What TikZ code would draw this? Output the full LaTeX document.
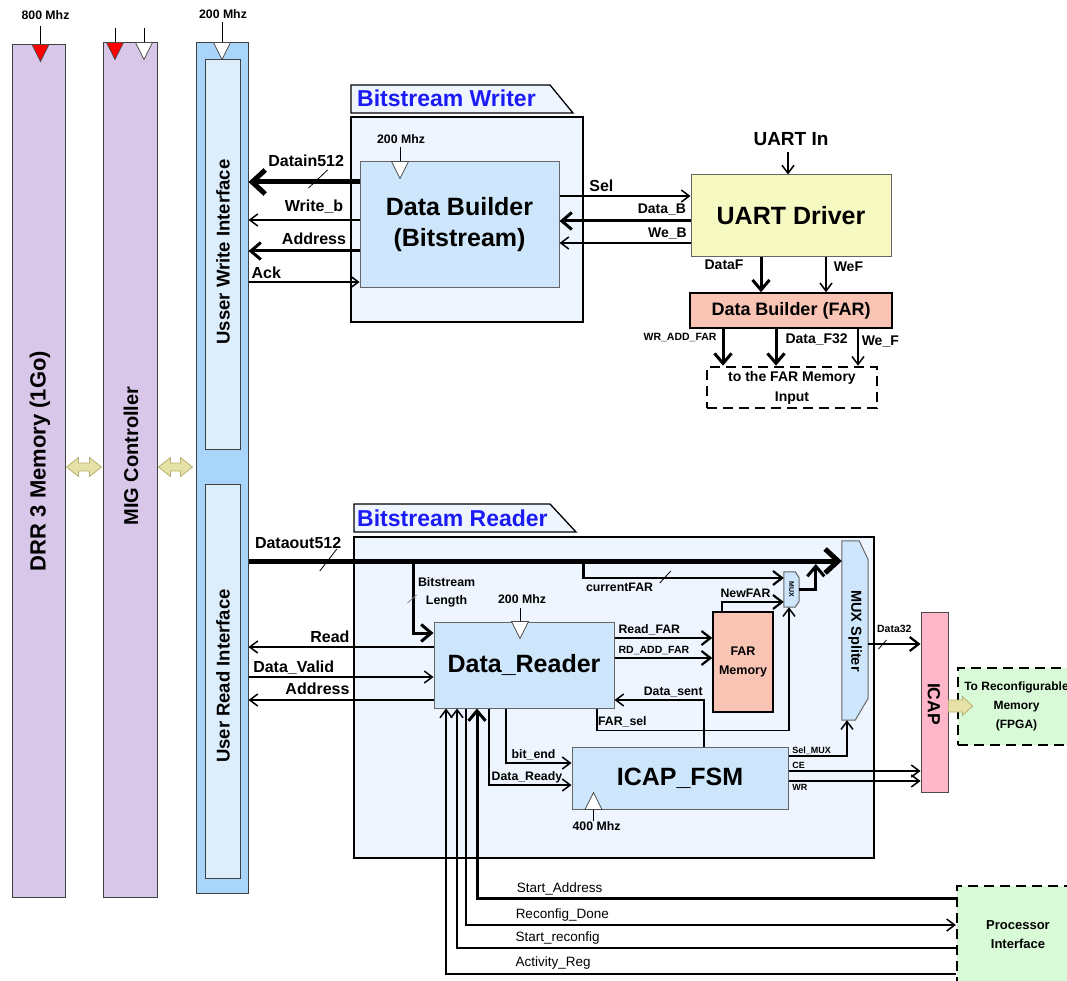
\documentclass[tikz,border=0pt]{standalone}
\usepackage{fontspec}
\setmainfont{Liberation Sans}
\usetikzlibrary{arrows.meta,calc}

\definecolor{memcol}{HTML}{D9C7EA}
\definecolor{uiblue}{HTML}{AAD5FA}
\definecolor{uilight}{HTML}{DCEDFC}
\definecolor{grpbg}{HTML}{EEF5FE}
\definecolor{blkblue}{HTML}{CDE6FB}
\definecolor{uartcol}{HTML}{F6F9C2}
\definecolor{farcol}{HTML}{F9C4B4}
\definecolor{icapcol}{HTML}{FFB6C8}
\definecolor{fpgacol}{HTML}{D9FAD7}
\definecolor{khaki}{HTML}{E6E1A6}
\definecolor{khakiline}{HTML}{B8B070}
\definecolor{titleblue}{HTML}{1B1BF5}

\newcommand{\fsz}[2]{\fontsize{#1pt}{#2pt}\selectfont}
\newcommand{\clocktri}[3]{\draw[clk, fill=#3] ($#1+(-8.5,0)$) -- ($#1+(8.5,0)$) -- ($#1+(0,#2)$) -- cycle;}
\newcommand{\widearrow}[2]{\draw[fat] #1 -- ($#1+(12,-9.5)$) -- ($#1+(12,-4)$) -- ($#2+(-12,-4)$) -- ($#2+(-12,-9.5)$) -- #2 -- ($#2+(-12,9.5)$) -- ($#2+(-12,4)$) -- ($#1+(12,4)$) -- ($#1+(12,9.5)$) -- cycle;}
\newcommand{\onearrow}[2]{\draw[fat] ($#1+(0,-6)$) -- ($#2+(-10,-6)$) -- ($#2+(-10,-9.5)$) -- #2 -- ($#2+(-10,9.5)$) -- ($#2+(-10,6)$) -- ($#1+(0,6)$) -- cycle;}

\begin{document}
\begin{tikzpicture}[
  x=1pt, y=-1pt,
  col/.style={draw=black!75, line width=1pt, inner sep=0pt},
  grp/.style={draw=black, line width=1.5pt, fill=grpbg, inner sep=0pt},
  blk/.style={draw=black!60, line width=1pt, fill=blkblue, inner sep=0pt, align=center, font=\bfseries\fsz{25}{31}},
  blkline/.style={draw=black!60, line width=1pt, fill=blkblue},
  tab/.style={draw=black, line width=1.3pt, fill=grpbg},
  title/.style={anchor=base west, inner sep=0pt, text=titleblue, font=\bfseries\fsz{23}{26}},
  lab/.style={inner sep=0pt, anchor=base, font=\bfseries\fsz{12.3}{14}},
  labL/.style={lab, font=\bfseries\fsz{16}{18}},
  labM/.style={lab, font=\bfseries\fsz{14}{16}},
  labS/.style={lab, font=\bfseries\fsz{10.5}{12}},
  labXS/.style={lab, font=\bfseries\fsz{9}{10}},
  labR/.style={lab, anchor=base west, font=\fsz{13.5}{15}},
  sig/.style={line width=1.5pt, -{Straight Barb[length=8pt,width=12pt]}},
  med/.style={line width=2.2pt, -{Straight Barb[length=9pt,width=14pt]}},
  thk/.style={line width=3pt, -{Straight Barb[length=10pt,width=17pt]}},
  bus/.style={line width=5pt, -{Straight Barb[length=13pt,width=24pt]}},
  clk/.style={draw=black!70, line width=0.7pt},
  clkline/.style={line width=1pt},
  slashline/.style={line width=0.8pt},
  fat/.style={draw=khakiline, line width=0.8pt, fill=khaki},
  dashbox/.style={draw=black, line width=2.6pt, dash pattern=on 10pt off 6pt, inner sep=0pt, align=center}
]
\useasboundingbox (0,0) rectangle (1067,981);

\node[col, fill=memcol, minimum width=53pt, minimum height=852pt] (ddr) at (38.5,471) {};
\node[col, fill=memcol, minimum width=54pt, minimum height=854pt] (mig) at (130,470) {};
\node[col, fill=uiblue, minimum width=52pt, minimum height=850pt] (uio) at (222,468) {};
\node[col, fill=uilight, minimum width=35pt, minimum height=389pt] (uiw) at (222.5,254.5) {};
\node[col, fill=uilight, minimum width=35pt, minimum height=394pt] (uir) at (222.5,681) {};
\node[rotate=90, font=\bfseries\fsz{22}{24}] (ddrtxt) at (40,461) {DRR 3 Memory (1Go)};
\node[rotate=90, font=\bfseries\fsz{20}{22}] (migtxt) at (131,456) {MIG Controller};
\node[rotate=90, font=\bfseries\fsz{18.5}{20}] (uiwtxt) at (223,252) {Usser Write Interface};
\node[rotate=90, font=\bfseries\fsz{18.5}{20}] (uirtxt) at (223,676) {User Read Interface};

\widearrow{([xshift=1pt,yshift=4pt]ddr.east)}{([xshift=-1pt,yshift=4pt]ddr.east -| mig.west)}
\widearrow{([xshift=1pt,yshift=3pt]mig.east)}{([xshift=-3pt,yshift=3pt]mig.east -| uio.west)}

\node[lab] (ck800) at (45.5,20) {800 Mhz};
\draw[clkline] ([xshift=2pt]ddr.north) -- ++(0,-18);
\clocktri{([xshift=2pt]ddr.north)}{17}{red}
\draw[clkline] ([xshift=-15pt]mig.north) -- ++(0,-14);
\clocktri{([xshift=-15pt]mig.north)}{17}{red}
\draw[clkline] ([xshift=14pt]mig.north) -- ++(0,-14);
\clocktri{([xshift=14pt]mig.north)}{17}{white}
\node[lab] (ck200) at (223,19) {200 Mhz};
\draw[clkline] (uio.north) -- ++(0,-20);
\clocktri{(uio.north)}{17}{white}

\node[grp, minimum width=232pt, minimum height=205pt] (wgrp) at (467,219.5) {};
\draw[tab] (351,113) -- (351,85) -- (550,85) -- (573,113) -- cycle;
\node[title] (wtitle) at (357,107) {Bitstream Writer};
\node[blk, minimum width=199pt, minimum height=126pt] (builder) at (459.5,225) {Data Builder\\(Bitstream)};
\draw[clkline] ([xshift=-59.5pt]builder.north) -- ++(0,-14);
\clocktri{([xshift=-59.5pt]builder.north)}{17}{white}
\node[lab] (ckw) at (401,144) {200 Mhz};

\node[blk, fill=uartcol, minimum width=200pt, minimum height=82pt] (uart) at (791,216) {UART Driver};
\node[lab, font=\bfseries\fsz{19}{21}] (uartin) at (791,146) {UART In};
\node[blk, fill=farcol, draw=black, line width=1.5pt, font=\bfseries\fsz{18}{20}, minimum width=202pt, minimum height=35pt] (farb) at (791,310.5) {Data Builder (FAR)};
\node[dashbox, font=\bfseries\fsz{14}{20}, minimum width=170pt, minimum height=41pt] (fardst) at (792,387.5) {to the FAR Memory\\Input};

\draw[bus] ([yshift=43pt]builder.west) -- node[labL, pos=0.48, yshift=15pt] {Datain512} ([yshift=43pt]builder.west -| uio.east);
\draw[slashline] ($(builder.west)+(-51,-37)$) -- ++(19,-18);
\draw[sig] ([yshift=5pt]builder.west) -- node[labL, pos=0.41, yshift=8pt] {Write\_b} ([yshift=5pt]builder.west -| uio.east);
\draw[thk] ([yshift=-26pt]builder.west) -- node[labL, pos=0.41, yshift=6pt] {Address} ([yshift=-26pt]builder.west -| uio.east);
\draw[sig] ([yshift=-57pt]builder.west -| uio.east) -- node[labL, pos=0.16, yshift=3pt] {Ack} ([yshift=-57pt]builder.west);
\draw[sig] ([yshift=29pt]builder.east) -- node[labL, pos=0.32, yshift=4pt] {Sel} ([yshift=29pt]builder.east -| uart.west);
\draw[thk] ([yshift=4pt]builder.east -| uart.west) -- node[labM, pos=0, anchor=base east, xshift=-3pt, yshift=7pt] {Data\_B} ([yshift=4pt]builder.east);
\draw[sig] ([yshift=-18pt]builder.east -| uart.west) -- node[labM, pos=0, anchor=base east, xshift=-3pt, yshift=5pt] {We\_B} ([yshift=-18pt]builder.east);
\draw[sig] ([xshift=-3pt,yshift=-6pt]uartin.base) -- ([xshift=-3pt]uart.north);
\draw[thk] ([xshift=-30pt]uart.south) -- node[labM, anchor=base east, xshift=-16pt, yshift=5pt] {DataF} ([xshift=-30pt]uart.south |- farb.north);
\draw[sig] ([xshift=35pt]uart.south) -- node[labM, anchor=base west, xshift=7pt, yshift=3pt] {WeF} ([xshift=35pt]uart.south |- farb.north);
\draw[thk] ([xshift=-68pt]farb.south) -- node[labS, anchor=base east, xshift=-5pt, yshift=6.5pt] {WR\_ADD\_FAR} ([xshift=-68pt]farb.south |- fardst.north);
\draw[thk] ([xshift=-15pt]farb.south) -- node[labM, anchor=base west, xshift=8pt, yshift=3.5pt] {Data\_F32} ([xshift=-15pt]farb.south |- fardst.north);
\draw[sig] ([xshift=67pt]farb.south) -- node[labM, anchor=base west, xshift=3pt, yshift=1.5pt] {We\_F} ([xshift=67pt]farb.south |- fardst.north);

\node[grp, minimum width=520pt, minimum height=321pt] (rgrp) at (614,697.5) {};
\draw[tab] (354,532) -- (354,504) -- (550,504) -- (576,532) -- cycle;
\node[title] (rtitle) at (357,526) {Bitstream Reader};
\node[blk, minimum width=180pt, minimum height=86pt] (reader) at (524,665) {Data\_Reader};
\draw[clkline] ([xshift=-4pt]reader.north) -- ++(0,-14);
\clocktri{([xshift=-4pt]reader.north)}{17}{white}
\node[lab] (ckr) at (522,603) {200 Mhz};
\node[blk, minimum width=216pt, minimum height=62pt] (icapfsm) at (680,778) {ICAP\_FSM};
\draw[clkline] ([xshift=22pt]icapfsm.south west) -- ++(0,11);
\clocktri{([xshift=22pt]icapfsm.south west)}{-17}{white}
\node[lab] (ckf) at (596.5,830) {400 Mhz};
\node[blk, fill=farcol, draw=black, line width=1.5pt, font=\bfseries\fsz{12.5}{19}, minimum width=60pt, minimum height=100pt] (farmem) at (743,662) {FAR\\Memory};

\node[minimum width=26pt, minimum height=179pt, inner sep=0pt] (msplit) at (855,630.5) {};
\draw[blkline] (msplit.south west) -- (msplit.north west) -- ($(msplit.north east)+(-9,0)$) -- ($(msplit.north east)+(0,19)$) -- ($(msplit.south east)+(0,-22)$) -- ($(msplit.south east)+(-13,0)$) -- cycle;
\node[rotate=-90, font=\bfseries\fsz{14.5}{16}] (msplittxt) at (855,631) {MUX Spliter};
\node[minimum width=15pt, minimum height=35pt, inner sep=0pt] (mux) at (791.5,589.5) {};
\draw[blkline] (mux.south west) -- (mux.north west) -- ($(mux.north east)+(-4,0)$) -- ($(mux.north east)+(0,6)$) -- ($(mux.south east)+(0,-6)$) -- ($(mux.south east)+(-4,0)$) -- cycle;
\node[rotate=-90, font=\bfseries\fsz{7}{8}] (muxtxt) at (791.5,589.5) {MUX};

\node[col, draw=black!70, fill=icapcol, minimum width=27pt, minimum height=180pt] (icap) at (934.5,702) {};
\node[rotate=-90, font=\bfseries\fsz{17.5}{19}] (icaptxt) at (934,704) {ICAP};
\node[dashbox, fill=fpgacol, line width=2.2pt, font=\bfseries\fsz{12}{19}, minimum width=117pt, minimum height=77pt] (fpga) at (1016.5,706.5) {To Reconfigurable\\Memory\\(FPGA)};
\node[dashbox, fill=fpgacol, line width=2.2pt, font=\bfseries\fsz{13}{19}, minimum width=122pt, minimum height=97pt] (procif) at (1018,934.5) {Processor\\Interface};
\onearrow{([yshift=-4pt]icap.east)}{([xshift=24pt,yshift=-4pt]icap.east)}

\coordinate (dtap) at ([yshift=69.5pt]msplit.west);
\draw[bus] (dtap -| uio.east) -- node[labL, pos=0, anchor=base west, xshift=4pt, yshift=13pt] {Dataout512} (dtap);
\draw[slashline] ($(dtap)+(-522,10)$) -- ++(17,-22);
\draw[thk] ([xshift=-20pt]reader.west |- dtap) |- node[lab, pos=0.22, anchor=west, xshift=3pt, align=center, font=\bfseries\fsz{12.4}{18}] {Bitstream\\Length} ([yshift=32pt]reader.west);
\draw[slashline, black!50] ($(reader.west)+(-26,-62)$) -- ++(9,-8);
\draw[med] ([xshift=-31pt]reader.east |- dtap) |- node[lab, pos=0.59, yshift=-13pt] {currentFAR} ([yshift=11.5pt]mux.west);
\draw[slashline] ($(mux.west)+(-124,-6.5)$) -- ++(11,-12);
\draw[thk] (mux.east) -| ([xshift=-26pt,yshift=-3pt]dtap);
\draw[med] ([xshift=-21pt]farmem.north) |- node[lab, pos=0.69, yshift=5pt] {NewFAR} ([yshift=-12.5pt]mux.west);
\draw[sig] ([xshift=73pt]reader.south) -- ++(0,22) -| node[lab, pos=0.066, yshift=5pt] {FAR\_sel} ([xshift=-2.5pt]mux.south);
\draw[med] ([yshift=27pt]reader.east) -- node[lab, pos=0, anchor=base west, xshift=3pt, yshift=5pt] {Read\_FAR} ([yshift=27pt]reader.east -| farmem.west);
\draw[med] ([yshift=7pt]reader.east) -- node[labS, pos=0, anchor=base west, xshift=3pt, yshift=5pt] {RD\_ADD\_FAR} ([yshift=7pt]reader.east -| farmem.west);
\draw[sig] ([xshift=24pt]icapfsm.north) |- node[lab, pos=0.672, yshift=5pt] {Data\_sent} ([yshift=-35pt]reader.east);

\draw[sig] ([yshift=18pt]reader.west) -- node[labL, pos=0.45, anchor=base east, yshift=5pt] {Read} ([yshift=18pt]reader.west -| uio.east);
\draw[sig] ([yshift=-12pt]reader.west -| uio.east) -- node[labL, pos=0, anchor=base west, xshift=4pt, yshift=5pt] {Data\_Valid} ([yshift=-12pt]reader.west);
\draw[sig] ([yshift=-35pt]reader.west) -- node[labL, pos=0.45, anchor=base east, yshift=6pt] {Address} ([yshift=-35pt]reader.west -| uio.east);

\draw[sig] ([xshift=-18pt]reader.south) |- node[lab, pos=0.71, yshift=5pt] {bit\_end} ([yshift=15pt]icapfsm.west);
\draw[sig] ([xshift=-35pt]reader.south) |- node[lab, pos=0.73, yshift=5pt] {Data\_Ready} ([yshift=-7pt]icapfsm.west);
\draw[sig] ([yshift=22pt]icapfsm.east) -| node[labXS, pos=0, anchor=base west, xshift=3pt, yshift=3pt] {Sel\_MUX} ([xshift=-8pt]msplit.south);
\draw[sig] ([yshift=7pt]icapfsm.east) -- node[labXS, pos=0, anchor=base west, xshift=3pt, yshift=3pt] {CE} ([yshift=7pt]icapfsm.east -| icap.west);
\draw[sig] ([yshift=-3pt]icapfsm.east) -- node[labXS, pos=0, anchor=base west, xshift=3pt, yshift=-9pt] {WR} ([yshift=-3pt]icapfsm.east -| icap.west);
\draw[med] ([yshift=-13.5pt]msplit.east) -- node[labS, yshift=12pt] {Data32} ([yshift=-13.5pt]msplit.east -| icap.west);
\draw[slashline] ($(icap.west)+(-42,-53)$) -- ++(8,-9);

\draw[thk] ([yshift=36.5pt]procif.west) -| node[labR, pos=0.46, yshift=6pt] {Start\_Address} ([xshift=-47pt]reader.south);
\draw[sig] ([xshift=-58pt]reader.south) |- node[labR, pos=0.55, yshift=7pt] {Reconfig\_Done} ([yshift=9.5pt]procif.west);
\draw[sig] ([yshift=-13.5pt]procif.west) -| node[labR, pos=0.442, yshift=7pt] {Start\_reconfig} ([xshift=-67pt]reader.south);
\draw[sig] ([yshift=-39.5pt]procif.west) -| node[labR, pos=0.4325, yshift=8pt] {Activity\_Reg} ([xshift=-78pt]reader.south);

\end{tikzpicture}
\end{document}
